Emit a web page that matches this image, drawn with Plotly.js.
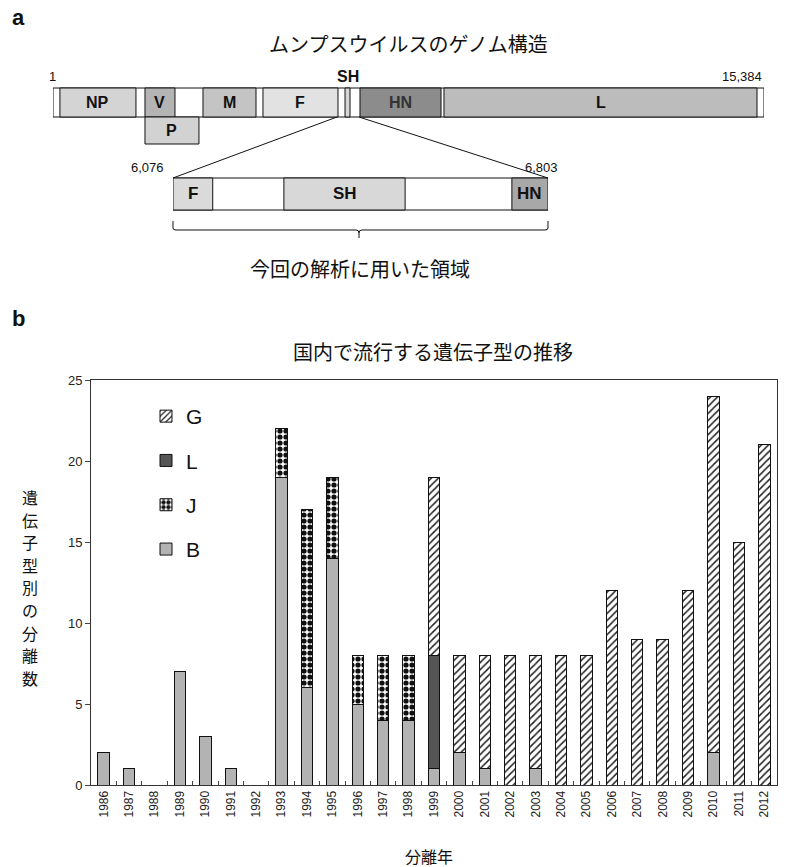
<!DOCTYPE html>
<html><head><meta charset="utf-8">
<script src="https://cdn.plot.ly/plotly-3.0.1.min.js"></script>
<style>html,body{margin:0;padding:0;background:#fff}</style>
</head><body><div id="chart" style="width:797px;height:867px"></div>
<script>
// ---- panel b data ----
const years = ['1986','1987','1988','1989','1990','1991','1992','1993','1994','1995','1996','1997','1998','1999','2000','2001','2002','2003','2004','2005','2006','2007','2008','2009','2010','2011','2012'];
const genoB = [2,1,0,7,3,1,0,19,6,14,5,4,4,1,2,1,0,1,0,0,0,0,0,0,2,0,0];
const genoJ = [0,0,0,0,0,0,0,3,11,5,3,4,4,0,0,0,0,0,0,0,0,0,0,0,0,0,0];
const genoL = [0,0,0,0,0,0,0,0,0,0,0,0,0,7,0,0,0,0,0,0,0,0,0,0,0,0,0];
const genoG = [0,0,0,0,0,0,0,0,0,0,0,0,0,11,6,7,8,7,8,8,12,9,9,12,22,15,21];
const yTicks = [0,5,10,15,20,25];

// ---- panel a data ----
const genomeLength = 15384;
const geneNames  = ['NP','V','M','F','SH','HN','L'];
const geneStart  = [151,1991,3246,4544,6319,6643,8460];
const geneEnd    = [1796,2640,4393,6167,6427,8396,15233];
const pGene = {name:'P', start:1991, end:3159};
const regionStart = 6076, regionEnd = 6803;
const regionNames = ['F','SH','HN'];
const regionSegStart = [6076,6291,6733];
const regionSegEnd   = [6153,6526,6803];

const W=797,H=867;
const PX=x=>x/W, PY=y=>1-y/H;
const nz = a => a.map(v => v===0 ? null : v);
const lineStyle = {color:'#111', width:1};

const traces = [
  {type:'bar', name:'B', x:years, y:nz(genoB), legendgroup:'b', legendrank:4,
   marker:{color:'#b3b3b3', line:lineStyle}},
  {type:'bar', name:'J', x:years, y:nz(genoJ), legendgroup:'j', legendrank:3,
   marker:{color:'#ffffff', line:lineStyle, pattern:{shape:'.', fgcolor:'#111', bgcolor:'#fff', size:6, solidity:0.6}}},
  {type:'bar', name:'L', x:years, y:nz(genoL), legendgroup:'l', legendrank:2,
   marker:{color:'#555555', line:lineStyle}},
  {type:'bar', name:'G', x:years, y:nz(genoG), legendgroup:'g', legendrank:1,
   marker:{color:'#ffffff', line:lineStyle, pattern:{shape:'/', fgcolor:'#222', bgcolor:'#fff', size:5, solidity:0.3}}},
  {type:'scatter', x:[1,genomeLength], y:[0,0], xaxis:'x2', yaxis:'y2', mode:'markers',
   marker:{opacity:0}, showlegend:false, hoverinfo:'skip'},
  {type:'scatter', x:[regionStart,regionEnd], y:[0,0], xaxis:'x3', yaxis:'y3', mode:'markers',
   marker:{opacity:0}, showlegend:false, hoverinfo:'skip'}
];

const geneFill = {NP:'#d4d4d4',V:'#b4b4b4',M:'#c4c4c4',F:'#e2e2e2',SH:'#d6d6d6',HN:'#8c8c8c',L:'#bcbcbc',P:'#d2d2d2'};
const regionFill = {F:'#dadada',SH:'#d8d8d8',HN:'#a8a8a8'};

const shapes = [];
const ann = [];
const cjk = "'Noto Sans CJK JP', sans-serif";
const lat = "'Liberation Sans', Arial, sans-serif";
function A(o){ ann.push(Object.assign({showarrow:false, xanchor:'center', yanchor:'middle'}, o)); }

// genome bar
const gTop=88, gBot=117, pBot=144;
shapes.push({type:'rect', xref:'x2', yref:'paper', x0:1, x1:genomeLength, y0:PY(gBot), y1:PY(gTop), fillcolor:'#fff', line:lineStyle});
geneNames.forEach((g,i)=>{
  shapes.push({type:'rect', xref:'x2', yref:'paper', x0:geneStart[i], x1:geneEnd[i], y0:PY(gBot), y1:PY(gTop), fillcolor:geneFill[g], line:lineStyle});
  if (g!=='SH') A({xref:'x2', yref:'paper', x:(geneStart[i]+geneEnd[i])/2, y:PY((gTop+gBot)/2), text:'<b>'+g+'</b>', font:{family:lat, size:16, color: g==='HN'?'#333':'#111'}});
});
shapes.push({type:'rect', xref:'x2', yref:'paper', x0:pGene.start, x1:pGene.end, y0:PY(pBot), y1:PY(gBot), fillcolor:geneFill.P, line:lineStyle});
A({xref:'x2', yref:'paper', x:(pGene.start+pGene.end)/2, y:PY((gBot+pBot)/2), text:'<b>P</b>', font:{family:lat, size:16, color:'#111'}});
A({xref:'x2', yref:'paper', x:(geneStart[4]+geneEnd[4])/2, y:PY(77), text:'<b>SH</b>', font:{family:lat, size:16, color:'#111'}});
A({xref:'x2', yref:'paper', x:1, y:PY(76), text:'1', font:{family:lat, size:13, color:'#111'}});
A({xref:'x2', yref:'paper', x:genomeLength, y:PY(76), text:'15,384', xanchor:'right', font:{family:lat, size:13, color:'#111'}});

// inset
const iTop=178, iBot=210;
shapes.push({type:'rect', xref:'x3', yref:'paper', x0:regionStart, x1:regionEnd, y0:PY(iBot), y1:PY(iTop), fillcolor:'#fff', line:lineStyle});
regionNames.forEach((g,i)=>{
  shapes.push({type:'rect', xref:'x3', yref:'paper', x0:regionSegStart[i], x1:regionSegEnd[i], y0:PY(iBot), y1:PY(iTop), fillcolor:regionFill[g], line:lineStyle});
  A({xref:'x3', yref:'paper', x:(regionSegStart[i]+regionSegEnd[i])/2, y:PY((iTop+iBot)/2), text:'<b>'+g+'</b>', font:{family:lat, size:17, color:'#111'}});
});
A({xref:'paper', yref:'paper', x:PX(166), y:PY(167), text:'6,076', xanchor:'right', font:{family:lat, size:13, color:'#111'}});
A({xref:'paper', yref:'paper', x:PX(541), y:PY(167), text:'6,803', font:{family:lat, size:13, color:'#111'}});
// connector lines
shapes.push({type:'line', xref:'paper', yref:'paper', x0:PX(337), y0:PY(gBot), x1:PX(173), y1:PY(iTop), line:lineStyle});
shapes.push({type:'line', xref:'paper', yref:'paper', x0:PX(359), y0:PY(gBot), x1:PX(548), y1:PY(iTop), line:lineStyle});
// brace
const bp = (x,y)=>`${(PX(x)).toFixed(5)},${(PY(y)).toFixed(5)}`;
shapes.push({type:'path', xref:'paper', yref:'paper',
  path:`M${bp(173,221)} L${bp(173,228)} Q${bp(173,230)} ${bp(176,230)} L${bp(356,230)} Q${bp(359,230)} ${bp(359,233)} L${bp(359,238)} M${bp(359,233)} Q${bp(359,230)} ${bp(362,230)} L${bp(545,230)} Q${bp(548,230)} ${bp(548,228)} L${bp(548,221)}`,
  line:{color:'#111', width:1}});
A({xref:'paper', yref:'paper', x:PX(360), y:PY(268), text:'今回の解析に用いた領域', font:{family:cjk, size:20, color:'#111'}});

// titles & panel letters
A({xref:'paper', yref:'paper', x:PX(408), y:PY(44), text:'ムンプスウイルスのゲノム構造', font:{family:cjk, size:20, color:'#111'}});
A({xref:'paper', yref:'paper', x:PX(433), y:PY(351), text:'国内で流行する遺伝子型の推移', font:{family:cjk, size:20, color:'#111'}});
A({xref:'paper', yref:'paper', x:PX(10), y:PY(18), xanchor:'left', text:'<b>a</b>', font:{family:lat, size:22, color:'#111'}});
A({xref:'paper', yref:'paper', x:PX(10), y:PY(318), xanchor:'left', text:'<b>b</b>', font:{family:lat, size:22, color:'#111'}});
const yTitle = '遺伝子型別の分離数'.split('');
yTitle.forEach((c,i)=>A({xref:'paper', yref:'paper', x:PX(30), y:PY(497 + i*22.6), text:c, font:{family:cjk, size:16, color:'#111'}}));
A({xref:'paper', yref:'paper', x:PX(429), y:PY(856), text:'分離年', font:{family:cjk, size:16, color:'#111'}});

const layout = {
  width:W, height:H, margin:{l:0,r:0,t:0,b:0},
  paper_bgcolor:'#fff', plot_bgcolor:'#fff',
  font:{family:lat, color:'#111'},
  barmode:'stack', bargap:0.55,
  showlegend:true,
  legend:{x:PX(146), y:PY(396), xanchor:'left', yanchor:'top', traceorder:'grouped', tracegroupgap:14,
    bgcolor:'rgba(0,0,0,0)', font:{family:lat, size:21, color:'#111'}},
  xaxis:{domain:[PX(91),PX(777)], type:'category', categoryorder:'array', categoryarray:years,
    tickangle:-90, tickfont:{size:12, family:lat, color:'#222'}, ticks:'inside', tickson:'boundaries', ticklen:4,
    showline:true, mirror:true, linecolor:'#333', linewidth:1, showgrid:false, anchor:'y', fixedrange:true},
  yaxis:{domain:[PY(785),PY(380)], range:[0,25], tickvals:yTicks, ticks:'outside', ticklen:5,
    tickfont:{size:13, family:lat, color:'#222'}, showline:true, mirror:true, linecolor:'#333', linewidth:1,
    showgrid:false, zeroline:false, anchor:'x', fixedrange:true},
  xaxis2:{domain:[PX(53),PX(764)], range:[1,genomeLength], visible:false, anchor:'y2', fixedrange:true},
  yaxis2:{domain:[PY(120),PY(90)], range:[-1,1], visible:false, anchor:'x2', fixedrange:true},
  xaxis3:{domain:[PX(173),PX(548)], range:[regionStart,regionEnd], visible:false, anchor:'y3', fixedrange:true},
  yaxis3:{domain:[PY(210),PY(180)], range:[-1,1], visible:false, anchor:'x3', fixedrange:true},
  shapes:shapes, annotations:ann
};
Plotly.newPlot('chart', traces, layout, {displayModeBar:false, staticPlot:true});
</script></body></html>
